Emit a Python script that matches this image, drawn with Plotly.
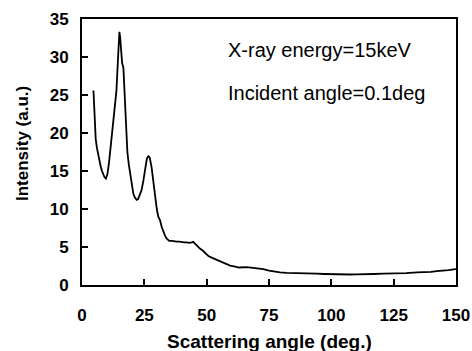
import plotly.graph_objects as go

angle = [4.6, 5.0, 5.5, 6.0, 6.5, 7.0, 7.5, 8.0, 8.5, 9.0, 9.6, 10.2, 10.8, 11.4, 12.0,
         12.6, 13.2, 13.8, 14.4, 15.0, 15.3, 15.7, 16.1, 16.6, 17.0, 17.6, 18.2, 18.8,
         19.4, 20.0, 20.6, 21.2, 21.9, 22.5, 23.2, 23.9, 24.6, 25.3, 26.0, 26.6, 27.2,
         27.9, 28.6, 29.3, 30.0, 30.6, 31.3, 32.0, 32.6, 33.3, 34.0, 35.0, 36.0, 37.0,
         38.0, 39.0, 40.0, 41.0, 42.0, 43.0, 44.0, 44.6, 45.3, 46.0, 47.3, 48.5, 49.5,
         50.7, 52.0, 53.5, 55.4, 57.0, 59.4, 61.0, 63.0, 66.1, 68.0, 70.7, 72.7, 75.0,
         77.0, 79.4, 82.0, 86.1, 90.0, 94.1, 97.0, 100.8, 103.0, 105.0, 107.5, 110.0,
         111.5, 114.0, 117.0, 120.9, 124.0, 127.0, 130.0, 134.3, 137.0, 140.0, 142.3,
         145.0, 147.0, 149.0, 150.0]
intensity = [25.6, 21.5, 19.2, 18.0, 17.1, 16.3, 15.6, 15.0, 14.6, 14.2, 14.0, 14.6, 16.0, 17.8, 20.0,
             21.5, 23.0, 25.5, 29.5, 33.3, 32.6, 31.0, 29.2, 28.6, 26.0, 21.5, 17.5, 15.8,
             14.4, 13.0, 12.0, 11.5, 11.2, 11.3, 11.8, 12.5, 13.7, 15.4, 16.6, 17.0, 16.7,
             15.5, 13.5, 11.3, 10.0, 9.0, 8.5, 7.6, 7.0, 6.5, 6.1, 5.8, 5.8, 5.7,
             5.7, 5.7, 5.6, 5.6, 5.6, 5.55, 5.6, 5.68, 5.45, 5.2, 4.8, 4.5, 4.2,
             3.8, 3.6, 3.4, 3.1, 2.9, 2.55, 2.45, 2.3, 2.35, 2.3, 2.2, 2.1, 1.9,
             1.78, 1.67, 1.6, 1.53, 1.5, 1.49, 1.45, 1.4, 1.38, 1.42, 1.38, 1.4,
             1.4, 1.42, 1.45, 1.5, 1.5, 1.52, 1.55, 1.65, 1.68, 1.72, 1.84,
             1.85, 1.95, 2.05, 2.1]

x_ticks = [0, 25, 50, 75, 100, 125, 150]
y_ticks = [0, 5, 10, 15, 20, 25, 30, 35]
notes = ["X-ray energy=15keV", "Incident angle=0.1deg"]
x_title = "Scattering angle (deg.)"
y_title = "Intensity (a.u.)"

W, H = 472, 351
L, R, T, B = 82, 16, 19, 66
pw, ph = W - L - R, H - T - B

def px_x(v):
    return (v - L) / pw

def px_y(v):
    return 1 - (v - T) / ph

tick_font = dict(family="Liberation Sans, Arial, sans-serif", size=17, color="black")

fig = go.Figure()
fig.add_trace(go.Scatter(x=angle, y=intensity, mode="lines",
                         line=dict(color="black", width=1.8), showlegend=False))

fig.update_xaxes(range=[0, 150], tickvals=x_ticks,
                 ticktext=[f"<b>{v}</b>" for v in x_ticks],
                 ticks="inside", ticklen=6, tickwidth=1.5, tickcolor="black",
                 ticklabelstandoff=14, automargin=False,
                 showline=True, linecolor="black", linewidth=2, mirror=True,
                 showgrid=False, zeroline=False, tickfont=tick_font)
fig.update_yaxes(range=[0, 35], tickvals=y_ticks,
                 ticktext=[f"<b>{v}</b>" for v in y_ticks],
                 ticks="inside", ticklen=6, tickwidth=1.5, tickcolor="black",
                 ticklabelstandoff=8, automargin=False,
                 showline=True, linecolor="black", linewidth=2, mirror=True,
                 showgrid=False, zeroline=False, tickfont=tick_font)

for i, t in enumerate(notes):
    fig.add_annotation(x=px_x(226), y=px_y(50 + 43 * i), xref="paper", yref="paper", text=t,
                       showarrow=False, xanchor="left", yanchor="middle",
                       font=dict(family="Liberation Sans, Arial, sans-serif", size=20, color="black"))

fig.add_annotation(x=0.5, y=px_y(341), xref="paper", yref="paper", text=f"<b>{x_title}</b>",
                   showarrow=False, xanchor="center", yanchor="middle",
                   font=dict(family="Liberation Sans, Arial, sans-serif", size=19, color="black"))
fig.add_annotation(x=px_x(22), y=px_y(144), xref="paper", yref="paper", text=f"<b>{y_title}</b>",
                   showarrow=False, xanchor="center", yanchor="middle", textangle=-90,
                   font=dict(family="Liberation Sans, Arial, sans-serif", size=17, color="black"))

fig.update_layout(width=W, height=H, margin=dict(l=L, r=R, t=T, b=B),
                  plot_bgcolor="white", paper_bgcolor="white")

fig.write_html("out.html")
